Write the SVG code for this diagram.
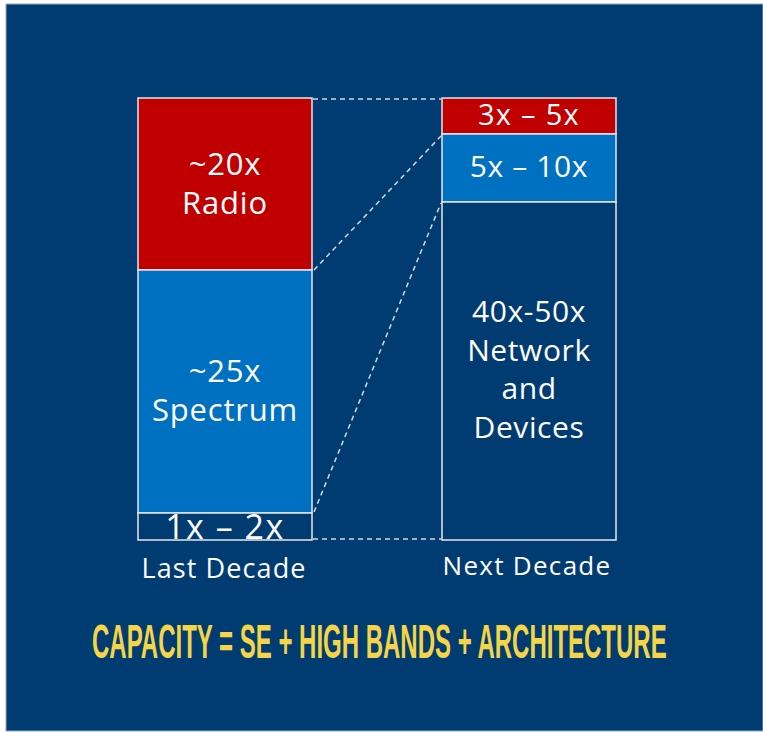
<svg xmlns="http://www.w3.org/2000/svg" width="763" height="732" viewBox="0 0 763 732">
<style>
.lbl{font-family:"Open Sans","Noto Sans","DejaVu Sans",sans-serif;fill:#ffffff;text-anchor:middle}
.l{font-size:31px;letter-spacing:0.8px}
.r{font-size:30px;letter-spacing:0.6px}
.cap{font-size:27px;letter-spacing:1.1px}
.box{stroke:#e6e6e6;stroke-width:1.5}
.dash{stroke:#d0d8e0;stroke-width:1.5;stroke-dasharray:5 4;fill:none}
</style>
<rect x="0" y="0" width="763" height="732" fill="#ffffff"/>
<rect x="6" y="4" width="757" height="727" fill="#003C71" stroke="#9aa8b8" stroke-width="1"/>
<g id="last-decade">
<g id="radio"><rect class="box" x="138" y="98" width="174" height="172" fill="#C00000"/>
<text class="lbl l" x="225" y="175">~20x</text>
<text class="lbl l" x="225" y="214">Radio</text></g>
<g id="spectrum"><rect class="box" x="138" y="270" width="174" height="243" fill="#0070C0"/>
<text class="lbl l" x="225" y="382">~25x</text>
<text class="lbl l" x="225" y="421">Spectrum</text></g>
<g id="base"><rect class="box" x="138" y="513" width="174" height="27" fill="#003C71"/>
<text class="lbl" x="225" y="539" font-size="34" letter-spacing="1.5">1x – 2x</text></g>
<text class="lbl cap" x="224" y="578">Last Decade</text>
</g>
<g id="next-decade">
<g id="n-radio"><rect class="box" x="442" y="98" width="174" height="36" fill="#C00000"/>
<text class="lbl" x="529" y="125" font-size="29" letter-spacing="1.3">3x – 5x</text></g>
<g id="n-spectrum"><rect class="box" x="442" y="134" width="174" height="68" fill="#0070C0"/>
<text class="lbl r" x="529" y="177">5x – 10x</text></g>
<g id="n-network"><rect class="box" x="442" y="202" width="174" height="338" fill="#003C71"/>
<text class="lbl r" x="529" y="322">40x-50x</text>
<text class="lbl r" x="529" y="361">Network</text>
<text class="lbl r" x="529" y="399">and</text>
<text class="lbl r" x="529" y="438">Devices</text></g>
<text class="lbl cap" x="527" y="575" style="font-size:26px;letter-spacing:1.3px">Next Decade</text>
</g>
<g id="connectors">
<line class="dash" x1="313" y1="99" x2="441" y2="99"/>
<line class="dash" x1="314" y1="270" x2="441" y2="136"/>
<line class="dash" x1="314" y1="512" x2="441" y2="203"/>
<line class="dash" x1="313" y1="539" x2="441" y2="539"/>
</g>
<text transform="translate(92,658) scale(0.487,1)" x="0" y="0" font-family="'Liberation Sans',Arial,sans-serif" font-weight="bold" font-size="49" fill="#F5D547" textLength="1180" lengthAdjust="spacingAndGlyphs">CAPACITY = SE + HIGH BANDS + ARCHITECTURE</text>
</svg>
